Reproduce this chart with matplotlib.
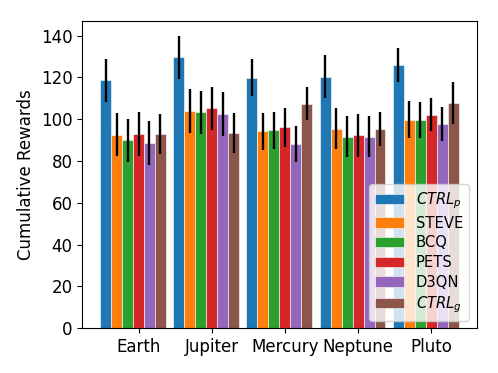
import numpy as np
import matplotlib
matplotlib.use("Agg")
import matplotlib.pyplot as plt

envs = ["Earth", "Jupiter", "Mercury", "Neptune", "Pluto"]
methods = ["$CTRL_p$", "STEVE", "BCQ", "PETS", "D3QN", "$CTRL_g$"]

# mean cumulative rewards, one list per method (Earth..Pluto)
ctrl_p = [118.6, 129.6, 119.9, 120.3, 125.7]
steve = [92.6, 104.0, 94.1, 95.4, 99.7]
bcq = [89.8, 103.3, 94.6, 91.7, 99.7]
pets = [92.9, 105.3, 96.1, 92.2, 102.2]
d3qn = [88.5, 102.6, 88.0, 91.7, 97.7]
ctrl_g = [92.8, 93.4, 107.4, 95.3, 107.7]

# standard deviations
ctrl_p_err = [10.3, 10.4, 8.8, 10.2, 8.1]
steve_err = [10.3, 10.5, 8.7, 9.9, 8.8]
bcq_err = [10.1, 10.4, 8.8, 9.7, 8.6]
pets_err = [10.5, 10.3, 9.2, 10.1, 8.0]
d3qn_err = [10.5, 10.6, 8.6, 9.7, 8.1]
ctrl_g_err = [9.7, 9.7, 7.8, 8.3, 10.0]

means = [ctrl_p, steve, bcq, pets, d3qn, ctrl_g]
errs = [ctrl_p_err, steve_err, bcq_err, pets_err, d3qn_err, ctrl_g_err]

fig = plt.figure(figsize=(4.98, 3.73), dpi=100)
ax = fig.add_axes([0.165, 0.12, 0.792, 0.824])

x = np.arange(len(envs))
width = 0.15
for i, (m, e, name) in enumerate(zip(means, errs, methods)):
    ax.bar(x + (i - 3) * width, m, width, yerr=e, label=name,
           edgecolor="white", linewidth=0.4,
           error_kw=dict(ecolor="black", elinewidth=1.7, capsize=0))

ax.set_xticks(x)
ax.set_xticklabels(envs, fontsize=12)
ax.tick_params(axis="y", labelsize=12)
ax.set_ylabel("Cumulative Rewards", fontsize=12)
ax.legend(loc="lower right", fontsize=10.6, labelspacing=0.32)

fig.savefig("out.png", dpi=100)
